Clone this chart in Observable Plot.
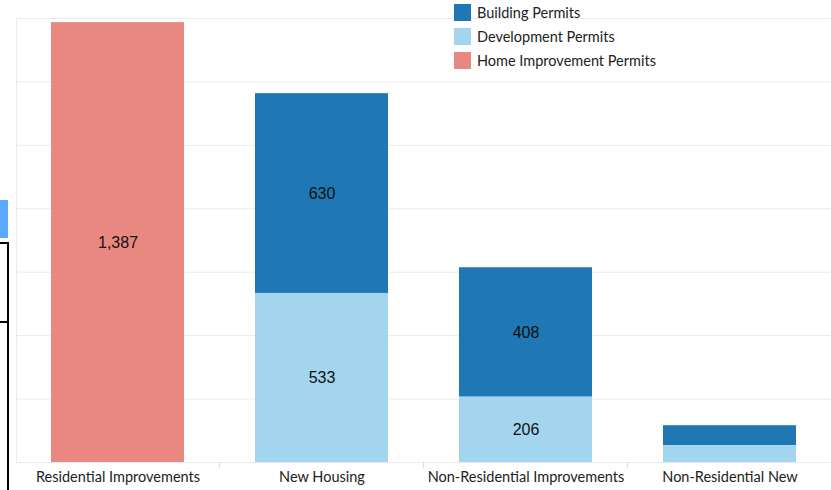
<!DOCTYPE html>
<html>
<head>
<meta charset="utf-8">
<script src="https://cdn.jsdelivr.net/npm/d3@7"></script>
<script src="https://cdn.jsdelivr.net/npm/@observablehq/plot@0.6"></script>
<style>
  html, body { margin: 0; padding: 0; background: #fff; }
  #wrap { position: relative; width: 831px; height: 490px; overflow: hidden; font-family: Lato, "Noto Sans", sans-serif; }
  #legend { position: absolute; left: 454px; top: 0.5px; font-size: 14.5px; color: #222; }
  .item { display: flex; align-items: center; height: 24px; }
  .sw { width: 17px; height: 17px; margin-right: 6px; }
  .deco { position: absolute; }
</style>
</head>
<body>
<div id="wrap"></div>
<script>
const categories = ["Residential Improvements", "New Housing", "Non-Residential Improvements", "Non-Residential New"];
const series = ["Building Permits", "Development Permits", "Home Improvement Permits"];
const colors = ["#1f77b4", "#a3d5ef", "#e98880"];
const buildingPermits = [0, 630, 408, 63];
const developmentPermits = [0, 533, 206, 53];
const homeImprovementPermits = [1387, 0, 0, 0];
const yTicks = [0, 200, 400, 600, 800, 1000, 1200, 1400];
const stackOrder = ["Development Permits", "Building Permits", "Home Improvement Permits"];

const seriesValues = [buildingPermits, developmentPermits, homeImprovementPermits];
const data = [];
categories.forEach((c, i) => {
  series.forEach((s, j) => {
    data.push({category: c, series: s, value: seriesValues[j][i]});
  });
});

const fmt = d3.format(",");

const boundaries = (index, scales, values, dims) => {
  const x = scales.x;
  const step = x.step();
  const g = d3.create("svg:g");
  const y0 = scales.y(0);
  categories.slice(0, -1).forEach(c => {
    const bx = x(c) + x.bandwidth() + (step - x.bandwidth()) / 2;
    g.append("line").attr("x1", bx).attr("x2", bx).attr("y1", y0).attr("y2", y0 + 6)
      .attr("stroke", "#dcdcdc");
  });
  return g.node();
};

const chart = Plot.plot({
  width: 831,
  height: 490,
  marginTop: 18,
  marginBottom: 28,
  marginLeft: 16,
  marginRight: 0,
  style: {fontFamily: "Lato, 'Noto Sans', sans-serif", fontSize: "14.5px", color: "#222", background: "#fff"},
  x: {domain: categories, paddingInner: 0.348, paddingOuter: 0.17, label: null},
  y: {domain: [0, 1400], axis: null},
  color: {domain: series, range: colors},
  marks: [
    Plot.gridY(yTicks, {stroke: "#ebebeb", strokeOpacity: 1}),
    Plot.frame({anchor: "left", stroke: "#ebebeb"}),
    Plot.barY(data.filter(d => d.value > 0), Plot.stackY({
      x: "category", y: "value", z: "series", fill: "series", order: stackOrder
    })),
    Plot.text(data.filter(d => d.value >= 100), Plot.stackY({
      x: "category", y: "value", z: "series", order: stackOrder,
      text: d => fmt(d.value), fill: "#111", fontSize: 16,
      fontFamily: "'Liberation Sans', Arial, sans-serif"
    })),
    Plot.axisX({tickSize: 0, tickPadding: 9, label: null, fill: "#222", fontSize: 14.5}),
    boundaries
  ]
});

const wrap = document.getElementById("wrap");
wrap.appendChild(chart);

const legend = document.createElement("div");
legend.id = "legend";
series.forEach((s, i) => {
  const it = document.createElement("div");
  it.className = "item";
  const sw = document.createElement("div");
  sw.className = "sw";
  sw.style.background = colors[i];
  const t = document.createElement("span");
  t.textContent = s;
  it.appendChild(sw);
  it.appendChild(t);
  legend.appendChild(it);
});
wrap.appendChild(legend);

// page decorations at left edge seen in the reference
const decos = [
  {l: 0, t: 200, w: 8, h: 38, bg: "#5aabff"},
  {l: 0, t: 242, w: 8, h: 2, bg: "#000"},
  {l: 7, t: 242, w: 2, h: 248, bg: "#000"},
  {l: 0, t: 321, w: 8, h: 2, bg: "#000"}
];
decos.forEach(d => {
  const e = document.createElement("div");
  e.className = "deco";
  Object.assign(e.style, {left: d.l + "px", top: d.t + "px", width: d.w + "px", height: d.h + "px", background: d.bg});
  wrap.appendChild(e);
});
</script>
</body>
</html>
